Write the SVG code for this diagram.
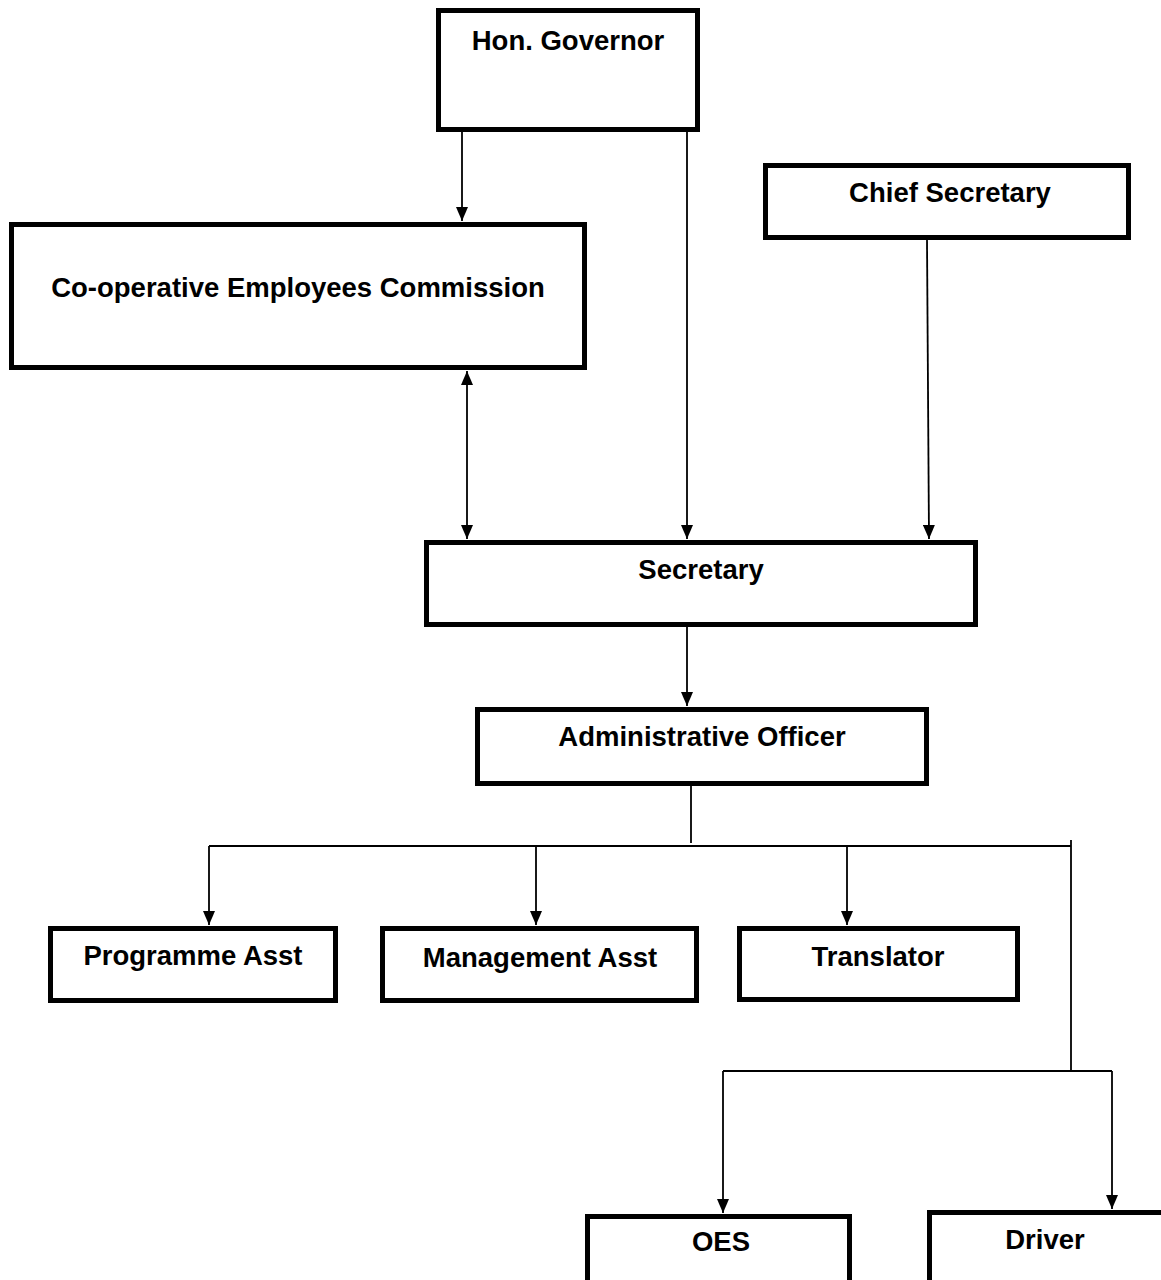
<svg xmlns="http://www.w3.org/2000/svg" width="1161" height="1280" viewBox="0 0 1161 1280">
  <style>
    .box { fill: #ffffff; stroke: #000000; stroke-width: 5; }
    .label { font-family: "Liberation Sans", Arial, sans-serif; font-weight: bold; font-size: 27.5px; fill: #000000; text-anchor: middle; }
    .link { fill: none; stroke: #000000; stroke-width: 1.8; }
  </style>
  <defs>
    <marker id="arrow" viewBox="0 0 14 12" refX="14" refY="6" markerWidth="14" markerHeight="12" markerUnits="userSpaceOnUse" orient="auto-start-reverse">
      <path d="M0,0 L14,6 L0,12 z" fill="#000000"/>
    </marker>
  </defs>
  <rect width="1161" height="1280" fill="#ffffff"/>

  <!-- connectors -->
  <g id="connectors">
    <line class="link" x1="462" y1="132" x2="462" y2="221" marker-end="url(#arrow)"/>
    <line class="link" x1="687" y1="132" x2="687" y2="539" marker-end="url(#arrow)"/>
    <line class="link" x1="927" y1="240" x2="929" y2="539" marker-end="url(#arrow)"/>
    <line class="link" x1="467" y1="371" x2="467" y2="539" marker-start="url(#arrow)" marker-end="url(#arrow)"/>
    <line class="link" x1="687" y1="627" x2="687" y2="706" marker-end="url(#arrow)"/>
    <line class="link" x1="691" y1="786" x2="691" y2="843"/>
    <line class="link" x1="209" y1="846" x2="1071" y2="846"/>
    <line class="link" x1="209" y1="846" x2="209" y2="925" marker-end="url(#arrow)"/>
    <line class="link" x1="536" y1="846" x2="536" y2="925" marker-end="url(#arrow)"/>
    <line class="link" x1="847" y1="846" x2="847" y2="925" marker-end="url(#arrow)"/>
    <line class="link" x1="1071" y1="840" x2="1071" y2="1071"/>
    <line class="link" x1="1112" y1="1071" x2="723" y2="1071"/>
    <line class="link" x1="723" y1="1071" x2="723" y2="1213" marker-end="url(#arrow)"/>
    <line class="link" x1="1112" y1="1071" x2="1112" y2="1209" marker-end="url(#arrow)"/>
  </g>

  <g id="governor">
    <rect class="box" x="438.5" y="10.5" width="259" height="119"/>
    <text class="label" x="568" y="50">Hon. Governor</text>
  </g>
  <g id="commission">
    <rect class="box" x="11.5" y="224.5" width="573" height="143"/>
    <text class="label" x="298" y="297">Co-operative Employees Commission</text>
  </g>
  <g id="chief-secretary">
    <rect class="box" x="765.5" y="165.5" width="363" height="72"/>
    <text class="label" x="950" y="202">Chief Secretary</text>
  </g>
  <g id="secretary">
    <rect class="box" x="426.5" y="542.5" width="549" height="82"/>
    <text class="label" x="701" y="579">Secretary</text>
  </g>
  <g id="admin-officer">
    <rect class="box" x="477.5" y="709.5" width="449" height="74"/>
    <text class="label" x="702" y="746">Administrative Officer</text>
  </g>
  <g id="programme-asst">
    <rect class="box" x="50.5" y="928.5" width="285" height="72"/>
    <text class="label" x="193" y="965">Programme Asst</text>
  </g>
  <g id="management-asst">
    <rect class="box" x="382.5" y="928.5" width="314" height="72"/>
    <text class="label" x="540" y="967">Management Asst</text>
  </g>
  <g id="translator">
    <rect class="box" x="739.5" y="928.5" width="278" height="71"/>
    <text class="label" x="878" y="966">Translator</text>
  </g>
  <g id="oes">
    <rect class="box" x="587.5" y="1216.5" width="262" height="68"/>
    <text class="label" x="721" y="1251">OES</text>
  </g>
  <g id="driver">
    <rect class="box" x="929.5" y="1212.5" width="234" height="72"/>
    <text class="label" x="1045" y="1249">Driver</text>
  </g>
</svg>
